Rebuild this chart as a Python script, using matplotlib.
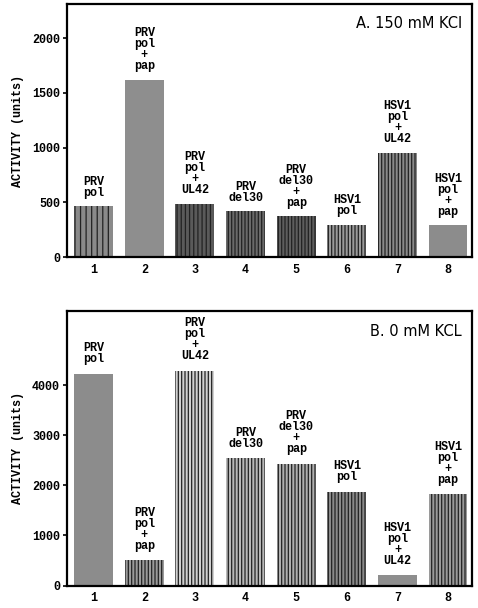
import matplotlib
matplotlib.use("Agg")
import matplotlib.pyplot as plt

# lane numbers and labels
lanes = [1, 2, 3, 4, 5, 6, 7, 8]
lane_labels = [
    "PRV\npol",
    "PRV\npol\n+\npap",
    "PRV\npol\n+\nUL42",
    "PRV\ndel30",
    "PRV\ndel30\n+\npap",
    "HSV1\npol",
    "HSV1\npol\n+\nUL42",
    "HSV1\npol\n+\npap",
]
# activity values (units)
activity_150 = [463, 1620, 488, 420, 372, 296, 954, 290]
activity_0 = [4233, 507, 4293, 2540, 2433, 1873, 207, 1820]

panel_a_title = "A. 150 mM KCl"
panel_b_title = "B. 0 mM KCL"

# per-bar look: (face, hatch)
style_a = [("#8a8a8a", "|||"), ("#8e8e8e", ""), ("#5a5a5a", "||||"), ("#6a6a6a", "|||||"),
           ("#5e5e5e", "|||||"), ("#9a9a9a", "|||||"), ("#8a8a8a", "|||||"), ("#8c8c8c", "")]
style_b = [("#8c8c8c", ""), ("#9a9a9a", "|||||"), ("#d0d0d0", "|||||"), ("#b8b8b8", "|||||"),
           ("#b0b0b0", "|||||"), ("#8a8a8a", "|||||"), ("#8e8e8e", ""), ("#9a9a9a", "|||||")]

MONO = "Liberation Mono"
plt.rcParams["hatch.linewidth"] = 0.9


def draw_panel(ax, values, styles, ymax, yticks, title, label_pad):
    for x, v, (face, hatch) in zip(lanes, values, styles):
        ax.bar(x, v, width=0.77, color=face, edgecolor="#222222" if hatch else face,
               hatch=hatch, linewidth=0)
    for x, v, lab in zip(lanes, values, lane_labels):
        ax.text(x, v + label_pad, lab, ha="center", va="bottom", family=MONO,
                fontweight="bold", fontsize=8.5, linespacing=0.88)
    ax.set_xlim(0.47, 8.47)
    ax.set_ylim(0, ymax)
    ax.set_xticks(lanes)
    ax.set_xticklabels([str(i) for i in lanes], family=MONO, fontweight="bold", fontsize=8.5)
    ax.set_yticks(yticks)
    ax.set_yticklabels([str(t) for t in yticks], family=MONO, fontweight="bold", fontsize=8.5)
    ax.tick_params(axis="x", length=0, pad=5)
    ax.tick_params(axis="y", direction="out", length=3, width=1.2, pad=2)
    for s in ax.spines.values():
        s.set_linewidth(1.6)
    ax.text(0.975, 0.925, title, transform=ax.transAxes, ha="right", va="center",
            fontsize=10.5, family="DejaVu Sans")
    ax.set_ylabel("ACTIVITY (units)", family=MONO, fontweight="bold", fontsize=8.5, labelpad=6)


fig = plt.figure(figsize=(4.78, 6.08), dpi=100)
fig.patch.set_facecolor("white")

ax_a = fig.add_axes([0.140, 0.577, 0.847, 0.416])
draw_panel(ax_a, activity_150, style_a, 2310, [0, 500, 1000, 1500, 2000], panel_a_title, 70)

ax_b = fig.add_axes([0.140, 0.037, 0.847, 0.452])
draw_panel(ax_b, activity_0, style_b, 5490, [0, 1000, 2000, 3000, 4000], panel_b_title, 170)

fig.savefig("out.png", dpi=100)
